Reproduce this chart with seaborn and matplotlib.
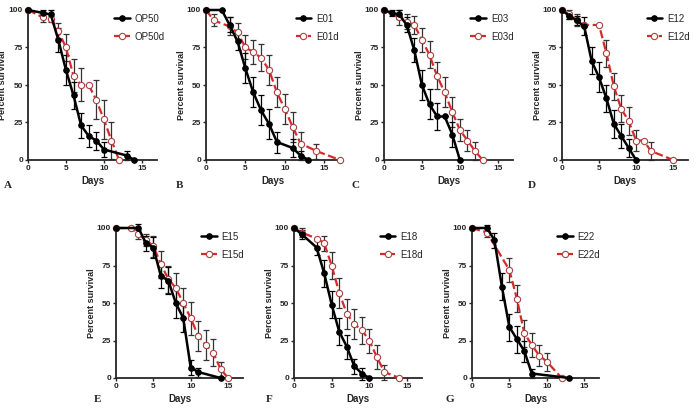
import numpy as np
import pandas as pd
import matplotlib.pyplot as plt
import seaborn as sns

# survival data (days, percent survival, error)
a_days = [0, 2, 3, 4, 5, 6, 7, 8, 9, 10, 13, 14]
a_surv = [100, 98, 97, 80, 60, 43, 23, 16, 13, 7, 3, 0]
a_err = [0, 2, 3, 8, 10, 9, 8, 7, 6, 5, 3, 0]
a_days_d = [0, 2, 3, 4, 5, 6, 7, 8, 9, 10, 11, 12]
a_surv_d = [100, 95, 94, 86, 75, 56, 50, 50, 40, 27, 13, 0]
a_err_d = [0, 3, 2, 5, 9, 11, 11, 0, 13, 13, 12, 0]

b_days = [0, 2, 3, 4, 5, 6, 7, 8, 9, 11, 12, 13]
b_surv = [100, 100, 90, 79, 61, 45, 33, 24, 12, 8, 3, 0]
b_err = [0, 0, 5, 6, 10, 10, 10, 10, 7, 6, 3, 0]
b_days_d = [0, 1, 3, 4, 5, 6, 7, 8, 9, 10, 11, 12, 14, 17]
b_surv_d = [100, 93, 89, 85, 75, 72, 68, 60, 45, 34, 22, 11, 6, 0]
b_err_d = [0, 4, 6, 6, 8, 8, 9, 10, 10, 10, 10, 8, 5, 0]

c_days = [0, 1, 2, 3, 4, 5, 6, 7, 8, 9, 10]
c_surv = [100, 98, 97, 90, 73, 50, 37, 29, 29, 17, 0]
c_err = [0, 2, 3, 5, 8, 10, 10, 9, 0, 8, 0]
c_days_d = [0, 2, 3, 4, 5, 6, 7, 8, 9, 10, 11, 12, 13]
c_surv_d = [100, 95, 92, 90, 80, 70, 56, 45, 32, 20, 13, 6, 0]
c_err_d = [0, 5, 5, 6, 8, 9, 9, 10, 10, 7, 7, 6, 0]

d_days = [0, 1, 2, 3, 4, 5, 6, 7, 8, 9, 10]
d_surv = [100, 96, 93, 89, 66, 55, 41, 24, 16, 8, 0]
d_err = [0, 2, 3, 6, 9, 10, 9, 9, 8, 6, 0]
d_days_d = [0, 1, 2, 3, 5, 6, 7, 8, 9, 10, 11, 12, 15]
d_surv_d = [100, 97, 93, 90, 90, 71, 49, 34, 26, 13, 13, 6, 0]
d_err_d = [0, 3, 4, 0, 0, 9, 9, 9, 9, 7, 0, 6, 0]

e_days = [0, 3, 4, 5, 6, 7, 8, 9, 10, 11, 14]
e_surv = [100, 100, 90, 87, 68, 65, 50, 40, 7, 4, 0]
e_err = [0, 3, 5, 7, 8, 9, 10, 9, 5, 3, 0]
e_days_d = [0, 2, 3, 4, 5, 6, 7, 8, 9, 10, 11, 12, 13, 14, 15]
e_surv_d = [100, 100, 96, 92, 88, 76, 66, 60, 50, 40, 28, 22, 17, 6, 0]
e_err_d = [0, 0, 3, 4, 7, 9, 9, 10, 10, 11, 10, 10, 9, 5, 0]

f_days = [0, 1, 3, 4, 5, 6, 7, 8, 9, 10]
f_surv = [100, 96, 87, 70, 49, 31, 21, 8, 3, 0]
f_err = [0, 3, 5, 9, 9, 9, 8, 5, 4, 0]
f_days_d = [0, 1, 3, 4, 5, 6, 7, 8, 9, 10, 11, 12, 14]
f_surv_d = [100, 97, 93, 90, 75, 57, 43, 36, 32, 25, 14, 4, 0]
f_err_d = [0, 3, 0, 5, 9, 10, 10, 10, 9, 8, 8, 5, 0]

g_days = [0, 2, 3, 4, 5, 6, 7, 8, 13]
g_surv = [100, 100, 92, 61, 34, 26, 18, 3, 0]
g_err = [0, 2, 5, 9, 9, 9, 7, 3, 0]
g_days_d = [0, 2, 5, 6, 7, 8, 9, 10, 12]
g_surv_d = [100, 97, 72, 53, 30, 22, 15, 11, 0]
g_err_d = [0, 3, 8, 9, 9, 8, 7, 6, 0]

panels = [
    ('A', 'OP50', a_days, a_surv, a_err, a_days_d, a_surv_d, a_err_d),
    ('B', 'E01', b_days, b_surv, b_err, b_days_d, b_surv_d, b_err_d),
    ('C', 'E03', c_days, c_surv, c_err, c_days_d, c_surv_d, c_err_d),
    ('D', 'E12', d_days, d_surv, d_err, d_days_d, d_surv_d, d_err_d),
    ('E', 'E15', e_days, e_surv, e_err, e_days_d, e_surv_d, e_err_d),
    ('F', 'E18', f_days, f_surv, f_err, f_days_d, f_surv_d, f_err_d),
    ('G', 'E22', g_days, g_surv, g_err, g_days_d, g_surv_d, g_err_d),
]

# axes boxes in pixels: left, right, y of 100, y of 0
boxes = [(28, 157, 10, 160), (206, 340, 10, 160), (384, 513, 10, 160), (562, 688, 10, 160),
         (116, 243, 228, 378), (294, 422, 228, 378), (472, 599, 228, 378)]
letter_pos = [(4, 186), (176, 186), (352, 186), (528, 186), (94, 400), (266, 400), (446, 400)]

W, H = 694, 416
sns.set_style('ticks')
plt.rcParams['font.family'] = ['Liberation Sans Narrow', 'Liberation Sans', 'DejaVu Sans']

fig = plt.figure(figsize=(W / 100, H / 100), dpi=100)
red = '#d42a2a'

for (letter, name, dx, sy, ey, dxd, syd, eyd), (l, r, t, b), (lx, ly) in zip(panels, boxes, letter_pos):
    ax = fig.add_axes([l / W, 1 - b / H, (r - l) / W, (b - t) / H])

    ax.errorbar(dxd, syd, yerr=eyd, fmt='none', ecolor='#333333', elinewidth=0.9,
                capsize=2, capthick=0.9, clip_on=False, zorder=2)
    ax.errorbar(dx, sy, yerr=ey, fmt='none', ecolor='black', elinewidth=0.9,
                capsize=2, capthick=0.9, clip_on=False, zorder=2)

    sns.lineplot(x=dx, y=sy, ax=ax, color='black', linewidth=1.8, marker='o',
                 markersize=4, markeredgecolor='black', label=name, clip_on=False, zorder=4)
    sns.lineplot(x=dxd, y=syd, ax=ax, color=red, linewidth=1.6, linestyle='--', marker='o',
                 markersize=4.5, markerfacecolor='white', markeredgecolor='#b04040',
                 markeredgewidth=0.8, label=name + 'd', clip_on=False, zorder=3)

    ax.set_xlim(0, 17)
    ax.set_ylim(0, 100)
    ax.set_xticks([0, 5, 10, 15])
    ax.set_yticks([0, 25, 50, 75, 100])
    sns.despine(ax=ax)
    for s in ['left', 'bottom']:
        ax.spines[s].set_linewidth(1.3)
    ax.tick_params(length=2.5, width=1, labelsize=6, pad=1)
    for lab in ax.get_xticklabels() + ax.get_yticklabels():
        lab.set_fontweight('bold')
    ax.set_xlabel('Days', fontsize=7, fontweight='bold', labelpad=3)
    ax.set_ylabel('Percent survival', fontsize=6.5, fontweight='bold', labelpad=1,
                  family=['Liberation Sans', 'DejaVu Sans'])
    ax.legend(loc='upper left', bbox_to_anchor=(0.64, 1.0), frameon=False, fontsize=7,
              handlelength=1.6, handletextpad=0.5, labelspacing=0.8, borderaxespad=0)

    fig.text(lx / W, 1 - ly / H, letter, fontsize=8, fontweight='bold',
             family=['Liberation Serif', 'DejaVu Serif'], ha='left', va='center')

fig.savefig('out.png', dpi=100)
